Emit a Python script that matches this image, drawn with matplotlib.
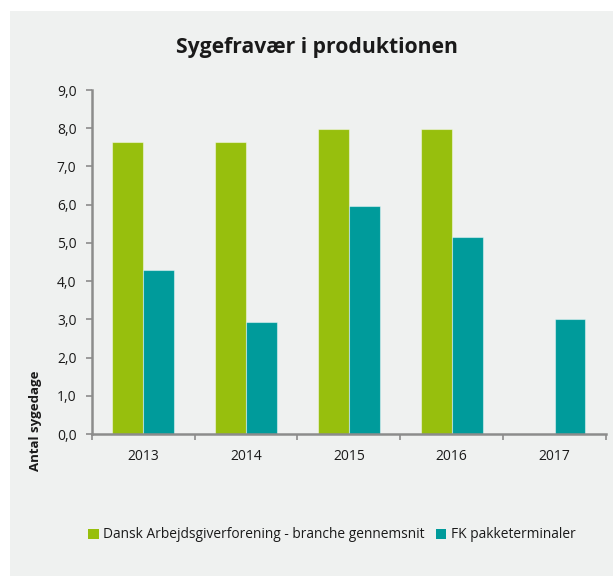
import matplotlib
matplotlib.use("Agg")
import matplotlib.pyplot as plt
from matplotlib.patches import Rectangle, Patch
from matplotlib.ticker import FuncFormatter, FixedLocator
import numpy as np

plt.rcParams['font.family'] = ['Open Sans', 'DejaVu Sans']

years = ["2013", "2014", "2015", "2016", "2017"]
series_names = ["Dansk Arbejdsgiverforening - branche gennemsnit", "FK pakketerminaler"]
da_values = [7.63, 7.63, 7.98, 7.98, np.nan]
fk_values = [4.30, 2.94, 5.97, 5.16, 3.00]
yticks = [0, 1, 2, 3, 4, 5, 6, 7, 8, 9]

GREEN = "#97BF0D"
TEAL = "#009B9B"
BG = "#EFF1F0"
AXC = "#8C8C8C"

W, H = 613, 576
fig = plt.figure(figsize=(W / 100, H / 100), dpi=100)
fig.patch.set_facecolor("white")
fig.patches.append(Rectangle((10 / W, 0), 1 - 10 / W, 1 - 11 / H, transform=fig.transFigure,
                             facecolor=BG, edgecolor="none", zorder=-10))

ax = fig.add_axes([91.7 / W, 1 - 434 / H, (606 - 91.7) / W, (434 - 90) / H])
ax.set_facecolor(BG)
ax.patch.set_alpha(0)

x = np.arange(len(years))
bw = 0.3
ax.bar(x - bw / 2, da_values, bw, color=GREEN, edgecolor=(1, 1, 1, 0.45), linewidth=0.8)
ax.bar(x + bw / 2, fk_values, bw, color=TEAL, edgecolor=(1, 1, 1, 0.45), linewidth=0.8)

ax.set_xlim(-0.5, len(years) - 0.5)
ax.set_ylim(0, 9)
ax.set_yticks(yticks)
ax.yaxis.set_major_formatter(FuncFormatter(lambda v, p: f"{v:.1f}".replace(".", ",")))
ax.set_xticks(x)
ax.set_xticklabels(years)
ax.xaxis.set_minor_locator(FixedLocator(np.arange(-0.5, len(years), 1.0)))

for s in ["top", "right"]:
    ax.spines[s].set_visible(False)
for s in ["left", "bottom"]:
    ax.spines[s].set_color(AXC)
    ax.spines[s].set_linewidth(1.8)

ax.tick_params(axis="y", direction="out", length=4, width=1.2, color=AXC, pad=7,
               labelsize=10, labelcolor="#1a1a1a")
ax.tick_params(axis="x", which="major", length=0, pad=11, labelsize=10, labelcolor="#1a1a1a")
ax.tick_params(axis="x", which="minor", direction="out", length=4, width=1.2, color=AXC)

fig.text(35 / W, 1 - 421 / H, "Antal sygedage", rotation=90, ha="center", va="center",
         fontsize=9.5, fontweight="bold", color="#1a1a1a")

fig.text(317 / W, 1 - 48 / H, "Sygefravær i produktionen", ha="center", va="center",
         fontsize=15.2, fontweight="bold", color="#1a1a1a")

handles = [Patch(facecolor=GREEN, edgecolor="none"), Patch(facecolor=TEAL, edgecolor="none")]
fig.legend(handles, series_names, loc="center", bbox_to_anchor=(332 / W, 1 - 535 / H),
           ncol=2, frameon=False, fontsize=9.9, handlelength=0.75, handleheight=0.75,
           handletextpad=0.35, columnspacing=0.8, labelcolor="#1a1a1a")

fig.savefig("out.png", dpi=100, facecolor="white")
